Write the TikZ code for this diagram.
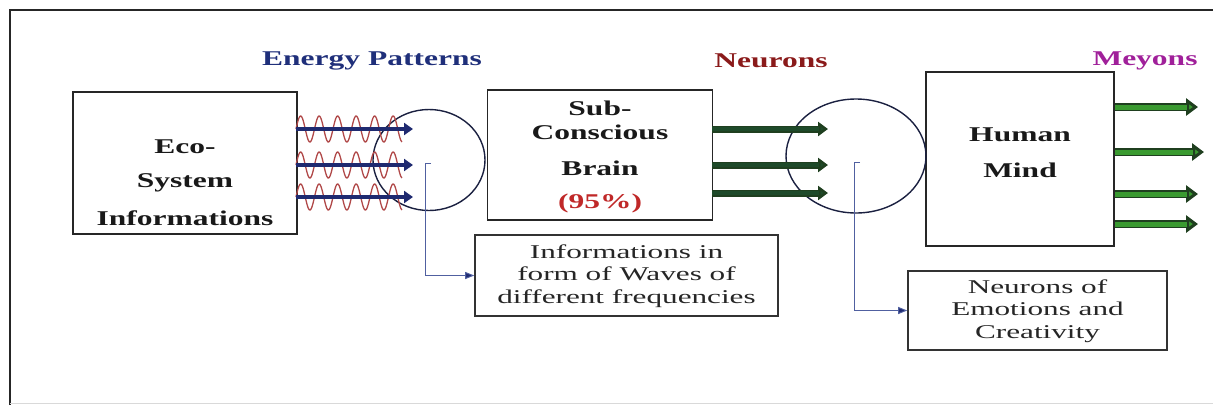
\documentclass[tikz,border=0pt]{standalone}
\usepackage{fontspec}
\setmainfont{Liberation Serif}
\newfontfamily\wf[FakeStretch=1.5]{Liberation Serif}
\newfontfamily\wfi[FakeStretch=1.6]{Liberation Serif}
\usetikzlibrary{arrows.meta,shapes.geometric}
\definecolor{navy}{HTML}{1F2A70}
\definecolor{circ}{HTML}{1A2040}
\definecolor{wavered}{HTML}{B04848}
\definecolor{dgreen}{HTML}{1E4A2A}
\definecolor{bgreen}{HTML}{3A9A30}
\definecolor{ogreen}{HTML}{1F3F1F}
\definecolor{tblue}{HTML}{1F2F7A}
\definecolor{tred}{HTML}{8A1A1A}
\definecolor{tmag}{HTML}{A0209A}
\definecolor{pred}{HTML}{C02828}
\definecolor{leader}{HTML}{5060A0}
\tikzset{
  bigbox/.style={draw=black!85, line width=1.8pt, inner sep=0pt, fill=white},
  infobox/.style={draw=black!80, line width=1.6pt, inner sep=0pt, fill=white},
  btxt/.style={font=\wf\bfseries\fontsize{21}{25}\selectfont, inner sep=0pt, text=black!90},
  itxt/.style={font=\wfi\fontsize{19.5}{22.5}\selectfont, inner sep=0pt, text=black!85, align=center},
  ttl/.style={font=\wf\bfseries\fontsize{21}{24}\selectfont, inner sep=0pt},
  bluearr/.style={navy, line width=4.5pt, -{Triangle[length=9pt,width=12pt]}},
  wave/.style={wavered, line width=1.3pt},
  ring/.style={circ, line width=1.4pt},
  leadline/.style={leader, line width=0.9pt, -{Triangle[length=9pt,width=7pt,fill=navy]}},
  greenout/.style={ogreen, line width=7pt, -{Triangle[length=10pt,width=14pt,fill=dgreen]}},
  greenin/.style={dgreen, line width=4pt},
  brightout/.style={ogreen, line width=8pt, -{Triangle[length=12pt,width=17pt,fill=bgreen]}},
  brightin/.style={bgreen, line width=5pt},
}
\begin{document}
\begin{tikzpicture}[x=1pt,y=-1pt]
\useasboundingbox (0,0) rectangle (1213,405);
% outer frame
\draw[black!85, line width=1.5pt] (10,405) -- (10,10) -- (1213,10);
\draw[black!15, line width=1pt] (10,403) -- (1213,403);

% titles
\node[ttl, text=tblue] (tEnergy) at (372,61) {Energy Patterns};
\node[ttl, text=tred] (tNeurons) at (771,61) {Neurons};
\node[ttl, text=tmag] (tMeyons) at (1145,61) {Meyons};

% Eco box
\node[bigbox, minimum width=224pt, minimum height=142pt] (eco) at (185,163) {};
\node[btxt] (eco1) at (185,147) {Eco-};
\node[btxt] (eco2) at (185,183) {System};
\node[btxt] (eco3) at (185,218) {Informations};

% Sub-conscious box
\node[bigbox, minimum width=225pt, minimum height=130pt] (sub) at (600,155) {};
\node[btxt] (sub1) at (600,108) {Sub-};
\node[btxt] (sub2) at (600,132) {Conscious};
\node[btxt] (sub3) at (600,168) {Brain};
\node[btxt, text=pred] (sub4) at (600,203) {(95\%)};

% Human mind box
\node[bigbox, minimum width=188pt, minimum height=174pt] (hum) at (1020,159) {};
\node[btxt] (hum1) at (1020,135) {Human};
\node[btxt] (hum2) at (1020,170) {Mind};

% info boxes
\node[infobox, minimum width=303pt, minimum height=81pt] (info1) at (626.5,275.5) {};
\node[itxt] (info1t) at (626.5,276) {Informations in\\form of Waves of\\different frequencies};
\node[infobox, minimum width=259pt, minimum height=79pt] (info2) at (1037.5,310.5) {};
\node[itxt] (info2t) at (1037.5,311) {Neurons of\\Emotions and\\Creativity};

% circles
\node[ring, draw, ellipse, minimum width=112pt, minimum height=101pt, inner sep=0pt] (c1) at (429,160) {};
\node[ring, draw, ellipse, minimum width=140pt, minimum height=114pt, inner sep=0pt] (c2) at (856,156) {};

% waves and blue arrows
\foreach \yy/\nm in {129/a,165/b,197/c}{
  \coordinate (ws\nm) at (296,\yy);
  \coordinate (we\nm) at (413,\yy);
  \draw[wave] plot[domain=296:402, samples=180, smooth] (\x, {\yy - 13*sin((\x-296)/18.5*360)});
  \draw[bluearr] (ws\nm) -- (we\nm);
}

% green arrows from Sub-conscious
\foreach \yy/\nm in {129/a,165/b,193/c}{
  \coordinate (gs\nm) at (712,\yy);
  \coordinate (ge\nm) at (828,\yy);
  \draw[greenout] (gs\nm) -- (ge\nm);
  \draw[greenin] (gs\nm) -- ([xshift=-9pt]ge\nm);
}

% bright green arrows from Human Mind
\foreach \yy/\xe/\nm in {107/1198/a,152/1204/b,194/1198/c,224/1198/d}{
  \coordinate (hs\nm) at (1115,\yy);
  \coordinate (he\nm) at (\xe,\yy);
  \draw[brightout] (hs\nm) -- (he\nm);
  \draw[brightin] (hs\nm) -- ([xshift=-11pt]he\nm);
}

% leader lines
\coordinate (k1) at (431,163);
\coordinate (k2) at (860,162);
\draw[leadline] (k1) -- ++(-6,0) |- (info1.west);
\draw[leadline] (k2) -- ++(-6,0) |- (info2.west);
\end{tikzpicture}
\end{document}
